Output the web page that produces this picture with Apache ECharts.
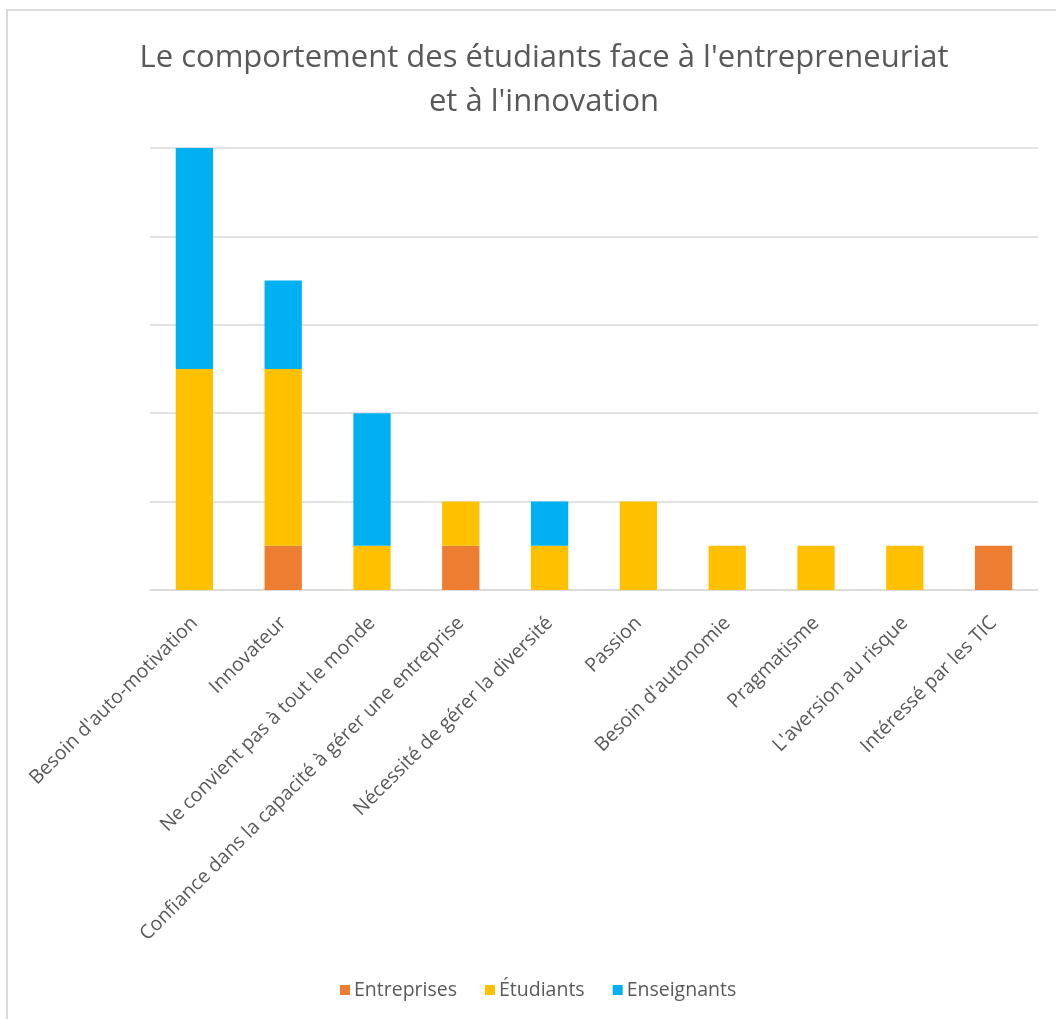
<!DOCTYPE html>
<html><head><meta charset="utf-8">
<script src="https://cdn.jsdelivr.net/npm/echarts@6/dist/echarts.min.js"></script>
<style>html,body{margin:0;padding:0;background:#fff}#c{width:1056px;height:1019px}</style>
</head><body><div id="c"></div>
<script>
const categories = ["Besoin d'auto-motivation","Innovateur","Ne convient pas à tout le monde","Confiance dans la capacité à gérer une entreprise","Nécessité de gérer la diversité","Passion","Besoin d'autonomie","Pragmatisme","L'aversion au risque","Intéressé par les TIC"];
const entreprises = [0,1,0,1,0,0,0,0,0,1];
const etudiants = [5,4,1,1,1,2,1,1,1,0];
const enseignants = [5,2,3,0,1,0,0,0,0,0];
const seriesNames = ["Entreprises","Étudiants","Enseignants"];
const colors = ["#ED7D31","#FFC000","#00B0F0"];
const font = "'Open Sans', sans-serif";
const chart = echarts.init(document.getElementById('c'));
const mk = (name, data, color) => ({name, type:'bar', stack:'s', data: data.map(v => v === 0 ? '-' : v), barWidth:'42%', itemStyle:{color}});
chart.setOption({
  animation:false,
  graphic:[{type:'rect', shape:{x:7,y:10,width:1100,height:1100}, style:{fill:'none', stroke:'#D9D9D9', lineWidth:2}}],
  title:{text:"Le comportement des étudiants face à l'entrepreneuriat\net à l'innovation", left:539, textAlign:'center', top:31,
    textStyle:{fontFamily:font, fontSize:31, fontWeight:'normal', color:'#595959', lineHeight:44}},
  legend:{top:975, left:335, itemWidth:10, itemHeight:10, itemGap:28, icon:'rect',
    textStyle:{fontFamily:font, fontSize:19.5, color:'#595959', padding:[0,0,0,-1]}, data:seriesNames},
  grid:{left:150, right:18, top:148, bottom:429},
  xAxis:{type:'category', data:categories, axisTick:{show:false},
    axisLine:{lineStyle:{color:'#D9D9D9', width:1.5}},
    axisLabel:{interval:0, rotate:45, fontFamily:font, fontSize:19.5, color:'#595959', margin:30}},
  yAxis:{type:'value', min:0, max:10, interval:2, axisLabel:{show:false}, axisLine:{show:false}, axisTick:{show:false},
    splitLine:{lineStyle:{color:'#D9D9D9', width:1.5}}},
  series:[mk(seriesNames[0], entreprises, colors[0]), mk(seriesNames[1], etudiants, colors[1]), mk(seriesNames[2], enseignants, colors[2])]
});
</script></body></html>
